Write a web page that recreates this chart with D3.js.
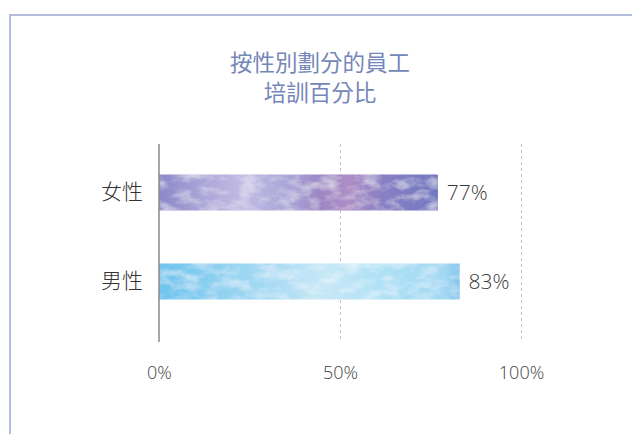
<!DOCTYPE html>
<html><head><meta charset="utf-8">
<script src="https://cdn.jsdelivr.net/npm/d3@7"></script>
<style>html,body{margin:0;padding:0;background:#fff;}svg{display:block;}</style>
</head><body>
<script>
const categories = ["女性", "男性"];
const values = [77, 83];
const tickValues = [0, 50, 100];
const titleLines = ["按性別劃分的員工", "培訓百分比"];

const W = 632, H = 434;
const svg = d3.select("body").append("svg").attr("width", W).attr("height", H);
const defs = svg.append("defs");

// gradients
const gradF = defs.append("linearGradient").attr("id", "gF");
[[0,"#8a88c8"],[0.15,"#aaa4d7"],[0.3,"#c2bbe2"],[0.45,"#aba8d9"],[0.58,"#9c87c5"],[0.68,"#ad8dc6"],[0.8,"#8a80c4"],[1,"#6f78c0"]]
  .forEach(([o,c]) => gradF.append("stop").attr("offset", o).attr("stop-color", c));
const gradM = defs.append("linearGradient").attr("id", "gM");
[[0,"#6cc4ee"],[0.2,"#8fd1f1"],[0.45,"#b6e0f5"],[0.55,"#c8e8f7"],[0.75,"#ade0f5"],[0.95,"#a3d8f3"],[1,"#86c6ec"]]
  .forEach(([o,c]) => gradM.append("stop").attr("offset", o).attr("stop-color", c));

// mottled texture filter
const filt = defs.append("filter").attr("id", "tex").attr("x", 0).attr("y", 0).attr("width", 1).attr("height", 1);
filt.append("feTurbulence").attr("type", "fractalNoise").attr("baseFrequency", "0.05 0.1").attr("numOctaves", 4).attr("seed", 7).attr("result", "noise");
filt.append("feColorMatrix").attr("in", "noise").attr("type", "matrix")
  .attr("values", "0 0 0 0 1  0 0 0 0 1  0 0 0 0 1  0 0 0 1.0 -0.42").attr("result", "white");
filt.append("feComposite").attr("in", "white").attr("in2", "SourceGraphic").attr("operator", "atop").attr("result", "w");
filt.append("feMerge").call(m => { m.append("feMergeNode").attr("in", "SourceGraphic"); m.append("feMergeNode").attr("in", "w"); });

// border
svg.append("rect").attr("x", 10).attr("y", 15).attr("width", W + 20).attr("height", H + 20)
  .attr("fill", "none").attr("stroke", "#b4bddc").attr("stroke-width", 2);

// title
titleLines.forEach((t, i) => svg.append("text").attr("text-anchor", "middle").attr("fill", "#7587b8")
  .attr("font-family", "'Noto Sans CJK TC', 'Noto Sans CJK SC', sans-serif").attr("font-size", 22.5)
  .attr("font-weight", 400).attr("x", 320).attr("y", 71 + i * 29.5).text(t));

const x = d3.scaleLinear().domain([0, 100]).range([159, 521]);
const y = d3.scaleBand().domain(categories).range([148, 326]).paddingInner(0.6).paddingOuter(0.3);

// gridlines
svg.append("g").selectAll("line").data(tickValues.filter(d => d > 0)).join("line")
  .attr("x1", d => x(d) + 0.5).attr("x2", d => x(d) + 0.5).attr("y1", 144).attr("y2", 342)
  .attr("stroke", "#c4c4c8").attr("stroke-width", 1).attr("stroke-dasharray", "3,3");

// bars
svg.append("g").selectAll("rect").data(categories).join("rect")
  .attr("x", x(0)).attr("y", d => y(d)).attr("height", y.bandwidth())
  .attr("width", (d, i) => x(values[i]) - x(0))
  .attr("fill", (d, i) => i === 0 ? "url(#gF)" : "url(#gM)")
  .attr("filter", "url(#tex)");

// axis line
svg.append("line").attr("x1", x(0)).attr("x2", x(0)).attr("y1", 144).attr("y2", 342)
  .attr("stroke", "#8a8a8e").attr("stroke-width", 1.5);

// x axis tick labels
const xAxis = d3.axisBottom(x).tickValues(tickValues).tickFormat(d => d + "%").tickSize(0).tickPadding(0);
const gx = svg.append("g").attr("transform", "translate(0,366)").call(xAxis);
gx.select(".domain").remove();
gx.selectAll("text").attr("fill", "#444").attr("font-family", "'Open Sans', sans-serif")
  .attr("font-weight", 300).attr("font-size", 18).attr("dy", "0.71em");

// y labels
const yAxis = d3.axisLeft(y).tickSize(0).tickPadding(16);
const gy = svg.append("g").attr("transform", `translate(${x(0)},0)`).call(yAxis);
gy.select(".domain").remove();
gy.selectAll("text").attr("fill", "#333").attr("font-family", "'Noto Sans CJK TC', sans-serif")
  .attr("font-weight", 300).attr("font-size", 21);

// value labels
svg.append("g").selectAll("text").data(categories).join("text")
  .attr("x", (d, i) => x(values[i]) + 9).attr("y", d => y(d) + y.bandwidth() / 2).attr("dy", "0.35em")
  .attr("fill", "#3a3a3a").attr("font-family", "'Open Sans', sans-serif").attr("font-weight", 300)
  .attr("font-size", 21).text((d, i) => values[i] + "%");
</script>
</body></html>
